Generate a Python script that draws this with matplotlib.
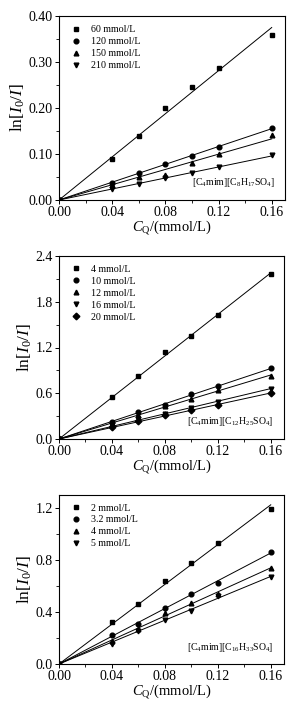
import numpy as np
import matplotlib
matplotlib.use("Agg")
import matplotlib.pyplot as plt
from matplotlib.ticker import MultipleLocator, FormatStrFormatter

plt.rcParams['font.family'] = ['Liberation Serif', 'DejaVu Serif']
plt.rcParams['mathtext.fontset'] = 'custom'
plt.rcParams['mathtext.rm'] = 'Liberation Serif'
plt.rcParams['mathtext.it'] = 'Liberation Serif:italic'

x = [0.0, 0.04, 0.06, 0.08, 0.10, 0.12, 0.16]

labels1 = ['60 mmol/L', '120 mmol/L', '150 mmol/L', '210 mmol/L']
s1_60 = [0.0, 0.090, 0.140, 0.199, 0.246, 0.288, 0.358]
s1_120 = [0.0, 0.038, 0.058, 0.079, 0.096, 0.115, 0.156]
s1_150 = [0.0, 0.032, 0.049, 0.055, 0.081, 0.099, 0.141]
s1_210 = [0.0, 0.023, 0.034, 0.048, 0.059, 0.072, 0.097]

labels2 = ['4 mmol/L', '10 mmol/L', '12 mmol/L', '16 mmol/L', '20 mmol/L']
s2_4 = [0.0, 0.546, 0.825, 1.135, 1.35, 1.62, 2.17]
s2_10 = [0.0, 0.22, 0.35, 0.45, 0.585, 0.69, 0.93]
s2_12 = [0.0, 0.20, 0.32, 0.43, 0.52, 0.64, 0.83]
s2_16 = [0.0, 0.18, 0.26, 0.33, 0.41, 0.49, 0.66]
s2_20 = [0.0, 0.16, 0.24, 0.31, 0.38, 0.44, 0.60]

labels3 = ['2 mmol/L', '3.2 mmol/L', '4 mmol/L', '5 mmol/L']
s3_2 = [0.0, 0.32, 0.46, 0.633, 0.774, 0.927, 1.19]
s3_32 = [0.0, 0.225, 0.306, 0.43, 0.54, 0.62, 0.86]
s3_4 = [0.0, 0.18, 0.27, 0.39, 0.47, 0.54, 0.735]
s3_5 = [0.0, 0.15, 0.255, 0.34, 0.406, 0.525, 0.666]

markers = ['s', 'o', '^', 'v', 'D']

panels = [
    dict(series=[s1_60, s1_120, s1_150, s1_210], labels=labels1, ylim=(0, 0.40), major=0.10, minor=0.05,
         fmt='%.2f', note=r'[C$_4$mim][C$_8$H$_{17}$SO$_4$]',
         rect=[59/304, 1-200/704, 226/304, 184/704]),
    dict(series=[s2_4, s2_10, s2_12, s2_16, s2_20], labels=labels2, ylim=(0, 2.4), major=0.6, minor=0.3,
         fmt='%.1f', note=r'[C$_4$mim][C$_{12}$H$_{25}$SO$_4$]',
         rect=[59/304, 1-439/704, 225/304, 183/704]),
    dict(series=[s3_2, s3_32, s3_4, s3_5], labels=labels3, ylim=(0, 1.3), major=0.4, minor=0.2,
         fmt='%.1f', note=r'[C$_4$mim][C$_{16}$H$_{33}$SO$_4$]',
         rect=[59/304, 1-664/704, 225/304, 169.5/704]),
]

fig = plt.figure(figsize=(3.04, 7.04), dpi=100)
xa = np.array(x)
for p in panels:
    ax = fig.add_axes(p['rect'])
    for s, lab, m in zip(p['series'], p['labels'], markers):
        ya = np.array(s)
        slope = np.sum(xa * ya) / np.sum(xa * xa)
        ax.plot([0, 0.16], [0, slope * 0.16], color='black', lw=0.7)
        ax.plot(xa, ya, linestyle='none', marker=m, color='black', markersize=3.4, label=lab)
    ax.set_xlim(0, 0.17)
    ax.set_ylim(*p['ylim'])
    ax.xaxis.set_major_locator(MultipleLocator(0.04))
    ax.xaxis.set_minor_locator(MultipleLocator(0.02))
    ax.yaxis.set_major_locator(MultipleLocator(p['major']))
    ax.yaxis.set_minor_locator(MultipleLocator(p['minor']))
    ax.xaxis.set_major_formatter(FormatStrFormatter('%.2f'))
    ax.yaxis.set_major_formatter(FormatStrFormatter(p['fmt']))
    ax.tick_params(which='both', direction='out', top=False, right=False, labelsize=10, pad=1.5)
    ax.tick_params(which='major', length=3, width=0.7)
    ax.tick_params(which='minor', length=2, width=0.6)
    for sp in ax.spines.values():
        sp.set_linewidth(0.8)
    ax.set_xlabel(r'$C_\mathrm{Q}$/(mmol/L)', fontsize=10.5, labelpad=0)
    ax.set_ylabel(r'ln[$I_0$/$I$]', fontsize=12.5, labelpad=1)
    ax.legend(loc='upper left', frameon=False, fontsize=7.2, handletextpad=0.7,
              borderaxespad=0.5, labelspacing=0.3, markerscale=1.0, handlelength=1.6)
    ax.text(0.955, 0.06, p['note'], transform=ax.transAxes, ha='right', va='bottom', fontsize=7)

fig.savefig('out.png', dpi=100)
